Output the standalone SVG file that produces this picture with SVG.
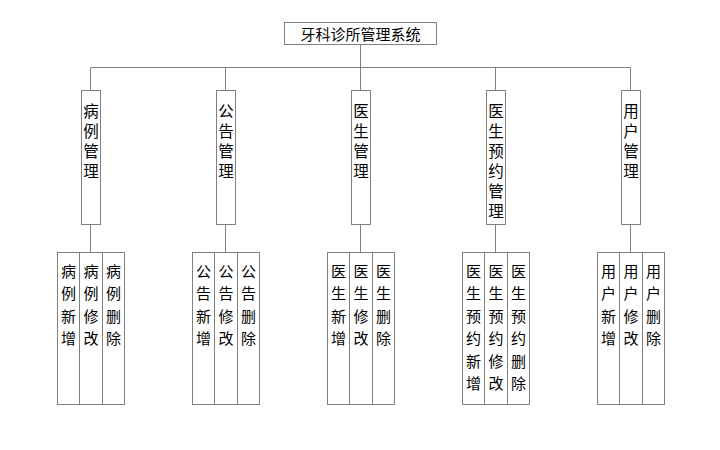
<svg xmlns="http://www.w3.org/2000/svg" width="720" height="450" viewBox="0 0 720 450">
<style>
.box{fill:#fff;stroke:#808080;stroke-width:1}
.ln{fill:none;stroke:#808080;stroke-width:1}
text{font-family:"Noto Sans CJK SC","Noto Sans",sans-serif;fill:#000;text-anchor:middle;dominant-baseline:central}
.t{font-size:15px}
.m{font-size:15.5px}
.l{font-size:15px}
</style>
<rect width="720" height="450" fill="#fff"/>
<g id="connectors">
<path class="ln" d="M360.5 44V67.5M90.5 67.5H630.5M90.5 67.5V90M225.5 67.5V90M360.5 67.5V90M495.5 67.5V90M630.5 67.5V90"/>
<path class="ln" d="M90.5 224V252M225.5 224V252M360.5 224V252M495.5 224V252M630.5 224V252"/>
</g>
<g id="root">
<rect class="box" x="284.5" y="22.5" width="152" height="22"/>
<text class="t" x="360.5" y="33.5">牙科诊所管理系统</text>
</g>
<g id="n1">
<rect class="box" x="81.5" y="90.5" width="19" height="134"/>
<text class="m" x="91" y="110">病</text><text class="m" x="91" y="130">例</text><text class="m" x="91" y="150">管</text><text class="m" x="91" y="170">理</text>
</g>
<g id="n2">
<rect class="box" x="216.5" y="90.5" width="19" height="134"/>
<text class="m" x="226" y="110">公</text><text class="m" x="226" y="130">告</text><text class="m" x="226" y="150">管</text><text class="m" x="226" y="170">理</text>
</g>
<g id="n3">
<rect class="box" x="351.5" y="90.5" width="19" height="134"/>
<text class="m" x="361" y="110">医</text><text class="m" x="361" y="130">生</text><text class="m" x="361" y="150">管</text><text class="m" x="361" y="170">理</text>
</g>
<g id="n4">
<rect class="box" x="486.5" y="90.5" width="19" height="134"/>
<text class="m" x="496" y="110">医</text><text class="m" x="496" y="130">生</text><text class="m" x="496" y="150">预</text><text class="m" x="496" y="170">约</text><text class="m" x="496" y="190">管</text><text class="m" x="496" y="210">理</text>
</g>
<g id="n5">
<rect class="box" x="621.5" y="90.5" width="19" height="134"/>
<text class="m" x="631" y="110">用</text><text class="m" x="631" y="130">户</text><text class="m" x="631" y="150">管</text><text class="m" x="631" y="170">理</text>
</g>
<g id="n1a"><rect class="box" x="57.5" y="252.5" width="22" height="152"/><text class="l" x="68.5" y="270">病</text><text class="l" x="68.5" y="292.5">例</text><text class="l" x="68.5" y="315">新</text><text class="l" x="68.5" y="337.5">增</text></g>
<g id="n1b"><rect class="box" x="79.5" y="252.5" width="23" height="152"/><text class="l" x="91" y="270">病</text><text class="l" x="91" y="292.5">例</text><text class="l" x="91" y="315">修</text><text class="l" x="91" y="337.5">改</text></g>
<g id="n1c"><rect class="box" x="102.5" y="252.5" width="22" height="152"/><text class="l" x="113.5" y="270">病</text><text class="l" x="113.5" y="292.5">例</text><text class="l" x="113.5" y="315">删</text><text class="l" x="113.5" y="337.5">除</text></g>
<g id="n2a"><rect class="box" x="192.5" y="252.5" width="22" height="152"/><text class="l" x="203.5" y="270">公</text><text class="l" x="203.5" y="292.5">告</text><text class="l" x="203.5" y="315">新</text><text class="l" x="203.5" y="337.5">增</text></g>
<g id="n2b"><rect class="box" x="214.5" y="252.5" width="23" height="152"/><text class="l" x="226" y="270">公</text><text class="l" x="226" y="292.5">告</text><text class="l" x="226" y="315">修</text><text class="l" x="226" y="337.5">改</text></g>
<g id="n2c"><rect class="box" x="237.5" y="252.5" width="22" height="152"/><text class="l" x="248.5" y="270">公</text><text class="l" x="248.5" y="292.5">告</text><text class="l" x="248.5" y="315">删</text><text class="l" x="248.5" y="337.5">除</text></g>
<g id="n3a"><rect class="box" x="327.5" y="252.5" width="22" height="152"/><text class="l" x="338.5" y="270">医</text><text class="l" x="338.5" y="292.5">生</text><text class="l" x="338.5" y="315">新</text><text class="l" x="338.5" y="337.5">增</text></g>
<g id="n3b"><rect class="box" x="349.5" y="252.5" width="23" height="152"/><text class="l" x="361" y="270">医</text><text class="l" x="361" y="292.5">生</text><text class="l" x="361" y="315">修</text><text class="l" x="361" y="337.5">改</text></g>
<g id="n3c"><rect class="box" x="372.5" y="252.5" width="22" height="152"/><text class="l" x="383.5" y="270">医</text><text class="l" x="383.5" y="292.5">生</text><text class="l" x="383.5" y="315">删</text><text class="l" x="383.5" y="337.5">除</text></g>
<g id="n4a"><rect class="box" x="462.5" y="252.5" width="22" height="152"/><text class="l" x="473.5" y="270">医</text><text class="l" x="473.5" y="292.5">生</text><text class="l" x="473.5" y="315">预</text><text class="l" x="473.5" y="337.5">约</text><text class="l" x="473.5" y="360">新</text><text class="l" x="473.5" y="382.5">增</text></g>
<g id="n4b"><rect class="box" x="484.5" y="252.5" width="23" height="152"/><text class="l" x="496" y="270">医</text><text class="l" x="496" y="292.5">生</text><text class="l" x="496" y="315">预</text><text class="l" x="496" y="337.5">约</text><text class="l" x="496" y="360">修</text><text class="l" x="496" y="382.5">改</text></g>
<g id="n4c"><rect class="box" x="507.5" y="252.5" width="22" height="152"/><text class="l" x="518.5" y="270">医</text><text class="l" x="518.5" y="292.5">生</text><text class="l" x="518.5" y="315">预</text><text class="l" x="518.5" y="337.5">约</text><text class="l" x="518.5" y="360">删</text><text class="l" x="518.5" y="382.5">除</text></g>
<g id="n5a"><rect class="box" x="597.5" y="252.5" width="22" height="152"/><text class="l" x="608.5" y="270">用</text><text class="l" x="608.5" y="292.5">户</text><text class="l" x="608.5" y="315">新</text><text class="l" x="608.5" y="337.5">增</text></g>
<g id="n5b"><rect class="box" x="619.5" y="252.5" width="23" height="152"/><text class="l" x="631" y="270">用</text><text class="l" x="631" y="292.5">户</text><text class="l" x="631" y="315">修</text><text class="l" x="631" y="337.5">改</text></g>
<g id="n5c"><rect class="box" x="642.5" y="252.5" width="22" height="152"/><text class="l" x="653.5" y="270">用</text><text class="l" x="653.5" y="292.5">户</text><text class="l" x="653.5" y="315">删</text><text class="l" x="653.5" y="337.5">除</text></g>
</svg>
